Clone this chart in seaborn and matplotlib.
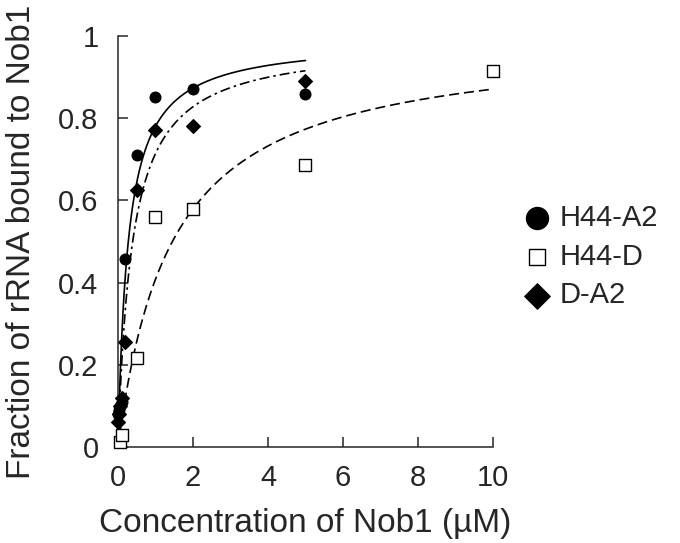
import numpy as np
import pandas as pd
import seaborn as sns
import matplotlib.pyplot as plt

sns.set_style("ticks")
plt.rcParams['font.family'] = ['Liberation Sans', 'DejaVu Sans']

# dados
x_a2 = [0, 0.02, 0.05, 0.1, 0.2, 0.5, 1, 2, 5]
y_h44a2 = [0.08, 0.09, 0.10, 0.11, 0.457, 0.71, 0.852, 0.871, 0.859]
y_da2 = [0.06, 0.08, 0.10, 0.12, 0.255, 0.625, 0.771, 0.781, 0.89]

x_h44d = [0.05, 0.1, 0.5, 1, 2, 5, 10]
y_h44d = [0.012, 0.03, 0.217, 0.56, 0.58, 0.686, 0.915]

# parâmetros do ajuste (ligação hiperbólica): Bmax, Kd, x máximo
FITS = {
    'H44-A2': (0.991, 0.27, 5),
    'H44-D': (0.996, 1.44, 10),
    'D-A2': (0.985, 0.38, 5),
}
TRACOS = {
    'H44-A2': None,
    'H44-D': (6, 3),
    'D-A2': (6, 2.4, 1.5, 2.4),
}

FS = 21
FS_LABEL = 24

fig = plt.figure(figsize=(6.8, 5.43), dpi=100)
ax = fig.add_axes([0.1735, 0.1768, 0.5515, 0.757])

# curvas ajustadas
for nome, (bmax, kd, xmax) in FITS.items():
    xs = np.linspace(0, xmax, 300)
    df_fit = pd.DataFrame({'x': xs, 'y': bmax * xs / (kd + xs)})
    sns.lineplot(data=df_fit, x='x', y='y', color='black', lw=1.2, ax=ax)
    if TRACOS[nome] is not None:
        ax.lines[-1].set_dashes(TRACOS[nome])

df_a = pd.DataFrame({'x': x_a2, 'y': y_h44a2})
df_d = pd.DataFrame({'x': x_h44d, 'y': y_h44d})
df_da = pd.DataFrame({'x': x_a2, 'y': y_da2})

h1 = ax.scatter(df_a['x'], df_a['y'], marker='o', s=58, color='black',
                zorder=3, clip_on=False)
h2 = ax.scatter(df_d['x'], df_d['y'], marker='s', s=75, facecolor='white',
                edgecolor='black', linewidth=1.0, zorder=3, clip_on=False)
h3 = ax.scatter(df_da['x'], df_da['y'], marker='D', s=48, color='black',
                zorder=4, clip_on=False)

ax.set_xlim(0, 10)
ax.set_ylim(0, 1)
ax.set_xticks([0, 2, 4, 6, 8, 10])
ax.set_yticks([0, 0.2, 0.4, 0.6, 0.8, 1])
ax.set_yticklabels(['0', '0.2', '0.4', '0.6', '0.8', '1'])
ax.tick_params(direction='in', length=7, width=1.1, labelsize=FS, pad=14)
ax.tick_params(axis='x', pad=12)
for lado in ['top', 'right']:
    ax.spines[lado].set_visible(False)
for lado in ['left', 'bottom']:
    ax.spines[lado].set_linewidth(1.1)

ax.set_xlabel('Concentration of Nob1 (µM)', fontsize=FS_LABEL, labelpad=12)
ax.set_ylabel('Fraction of rRNA bound to Nob1', fontsize=FS_LABEL, labelpad=15)

leg = ax.legend(handles=[h1, h2, h3], labels=['H44-A2', 'H44-D', 'D-A2'],
                loc='center left', bbox_to_anchor=(1.0, 0.463), frameon=False,
                fontsize=FS, handletextpad=0.2, labelspacing=0.37,
                handlelength=1.2)
for h, tam in zip(leg.legend_handles, [250, 117, 165]):
    h.set_sizes([tam])

fig.savefig('out.png', dpi=100)
